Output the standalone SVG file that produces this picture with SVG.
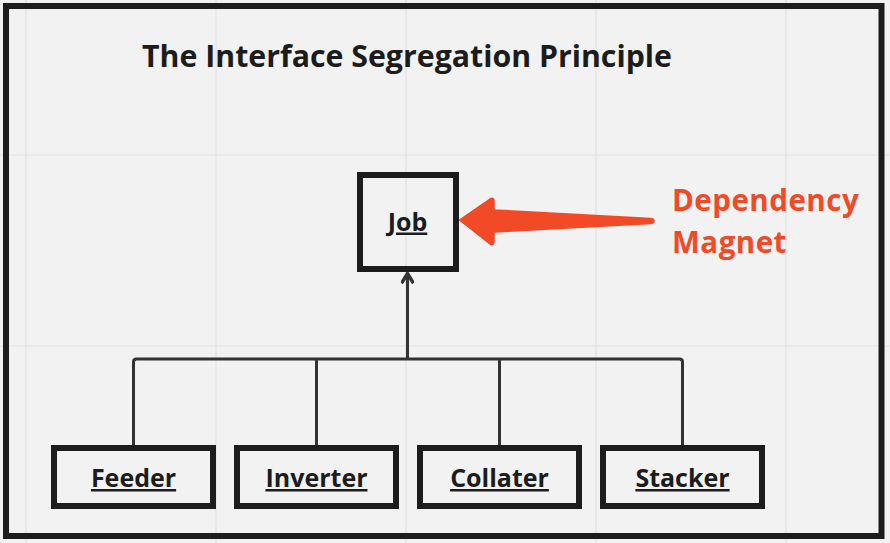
<svg xmlns="http://www.w3.org/2000/svg" width="890" height="543" viewBox="0 0 890 543">
<defs>
<style>
.grid{stroke:#e1e1e1;stroke-width:1.2;fill:none}
.box{fill:none;stroke:#1c1c1c;stroke-width:6}
.lbl{font-family:"Open Sans","Liberation Sans",sans-serif;font-weight:700;font-size:25px;fill:#1c1c1c;text-anchor:middle;text-decoration:underline}
.conn{fill:none;stroke:#333333;stroke-width:3;stroke-linejoin:round;stroke-linecap:butt}
.red{font-family:"Open Sans","Liberation Sans",sans-serif;font-weight:700;font-size:29.5px;letter-spacing:0.5px;fill:#f24a26}
</style>
<marker id="ah" viewBox="0 0 12 12" refX="10" refY="6" markerWidth="13" markerHeight="13" markerUnits="userSpaceOnUse" orient="auto">
<path d="M1,0.5 L10,6 L1,11.5" fill="none" stroke="#333333" stroke-width="3.2" stroke-linejoin="miter"/>
</marker>
</defs>
<rect x="0" y="0" width="890" height="543" fill="#f2f2f2"/>
<g id="grid">
<path class="grid" d="M26,0V543M216,0V543M406,0V543M596,0V543M786,0V543M0,155H890M0,346H890"/>
</g>
<rect id="frame" x="6" y="6" width="875.5" height="530" fill="none" stroke="#1c1c1c" stroke-width="6"/>
<text id="title" x="142" y="67" font-family="'Open Sans','Liberation Sans',sans-serif" font-weight="700" font-size="30" fill="#1c1c1c" textLength="530" lengthAdjust="spacingAndGlyphs">The Interface Segregation Principle</text>
<g id="connectors">
<path class="conn" d="M133.5,445 V362 Q133.5,359 136.5,359 H679.5 Q682.5,359 682.5,362 V445"/>
<path class="conn" d="M316.5,359 V445 M499.5,359 V445"/>
<path class="conn" d="M407.5,359 V273.5" marker-end="url(#ah)"/>
<path id="magnet-arrow" d="M459.5,220 L490,199 Q494,197 494,201 L494,210 L651,218.5 Q654,219 654,221 Q654,223 651,223.5 L494,232 L494,241.5 Q494,246 490,244 Z" fill="#f24a26" stroke="#f24a26" stroke-width="1.5" stroke-linejoin="round"/>
</g>
<g id="job">
<rect class="box" x="360" y="175" width="96" height="94"/>
<text class="lbl" x="407.5" y="230.5">Job</text>
</g>
<g id="feeder">
<rect class="box" x="54" y="448" width="159" height="58"/>
<text class="lbl" x="133.5" y="487">Feeder</text>
</g>
<g id="inverter">
<rect class="box" x="237" y="448" width="159" height="58"/>
<text class="lbl" x="316.5" y="487">Inverter</text>
</g>
<g id="collater">
<rect class="box" x="420" y="448" width="159" height="58"/>
<text class="lbl" x="499.5" y="487">Collater</text>
</g>
<g id="stacker">
<rect class="box" x="603" y="448" width="159" height="58"/>
<text class="lbl" x="682.5" y="487">Stacker</text>
</g>
<g id="dependency-magnet">
<text class="red" x="672" y="211">Dependency</text>
<text class="red" x="672" y="253">Magnet</text>
</g>
</svg>
